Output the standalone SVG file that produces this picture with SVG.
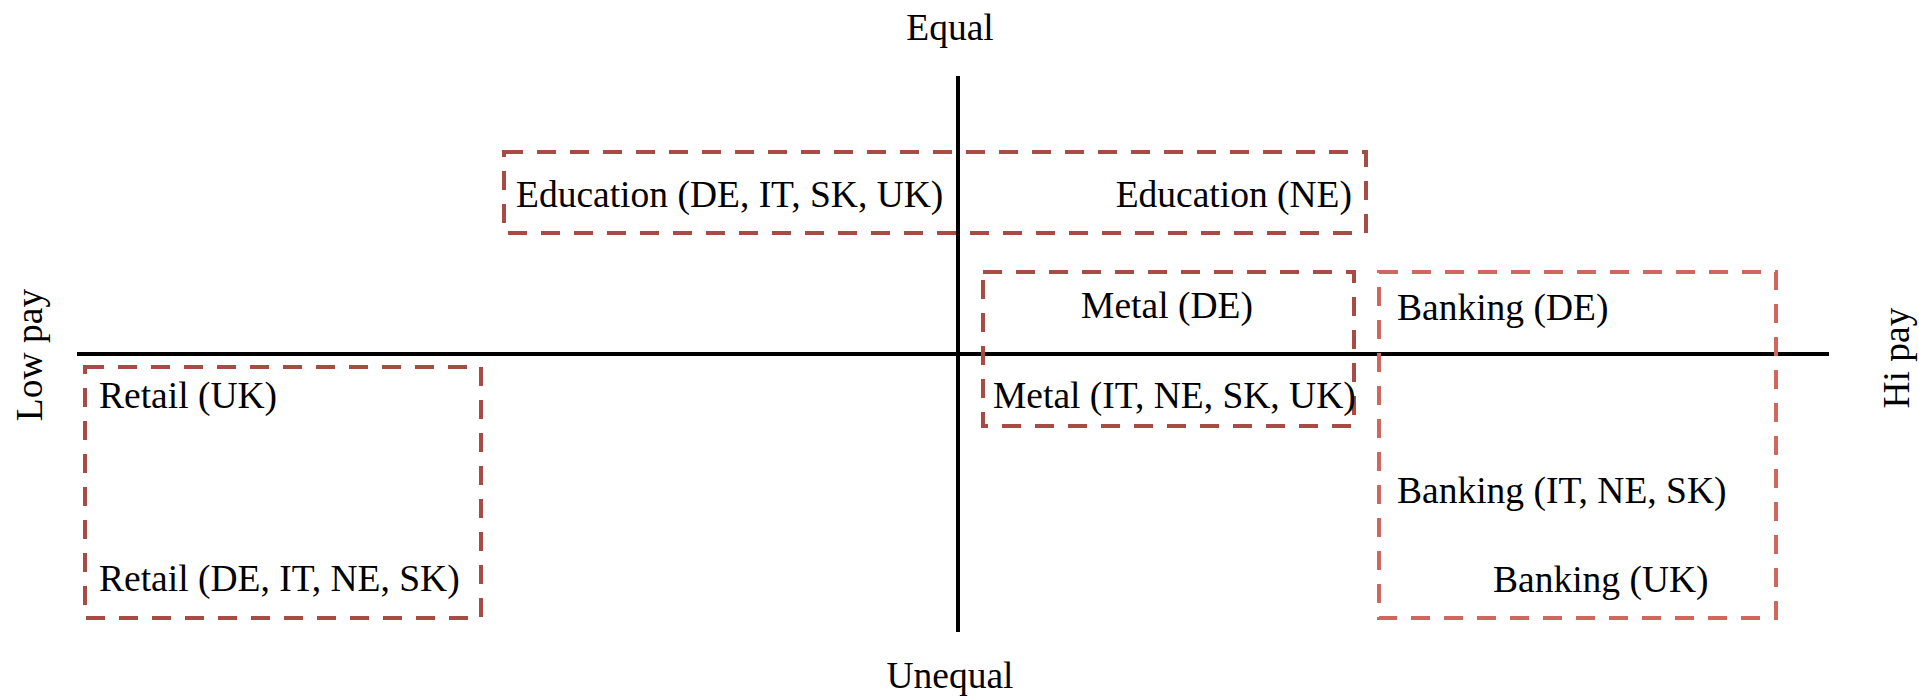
<svg xmlns="http://www.w3.org/2000/svg" width="1919" height="696" viewBox="0 0 1919 696">
<style>
text{font-family:"Liberation Serif","Times New Roman",serif;font-size:37.5px;fill:#000}
.box{fill:none;stroke-width:4;stroke-dasharray:19 14}
.dark{stroke:#A94B45}
.light{stroke:#D1665F}
.axis{stroke:#000;stroke-width:4}
</style>
<rect width="1919" height="696" fill="#fff"/>
<g id="axes">
<line class="axis" x1="958" y1="76" x2="958" y2="632"/>
<line class="axis" x1="77" y1="354" x2="1829" y2="354"/>
</g>
<g id="axis-labels">
<text x="950" y="40" text-anchor="middle">Equal</text>
<text x="950" y="688" text-anchor="middle">Unequal</text>
<text transform="translate(42,355) rotate(-90)" text-anchor="middle">Low pay</text>
<text transform="translate(1909,358) rotate(-90)" text-anchor="middle">Hi pay</text>
</g>
<g id="education">
<rect class="box dark" x="504" y="152" width="862" height="81"/>
<text x="516" y="207">Education (DE, IT, SK, UK)</text>
<text x="1352" y="207" text-anchor="end">Education (NE)</text>
</g>
<g id="metal">
<rect class="box dark" x="983" y="272" width="371" height="154"/>
<text x="1167" y="318" text-anchor="middle">Metal (DE)</text>
<text x="993" y="408">Metal (IT, NE, SK, UK)</text>
</g>
<g id="retail">
<rect class="box dark" x="85" y="367" width="396" height="251"/>
<text x="99" y="408">Retail (UK)</text>
<text x="99" y="591">Retail (DE, IT, NE, SK)</text>
</g>
<g id="banking">
<rect class="box light" x="1379" y="272" width="397" height="346"/>
<text x="1397" y="320">Banking (DE)</text>
<text x="1397" y="503">Banking (IT, NE, SK)</text>
<text x="1493" y="592">Banking (UK)</text>
</g>
</svg>
